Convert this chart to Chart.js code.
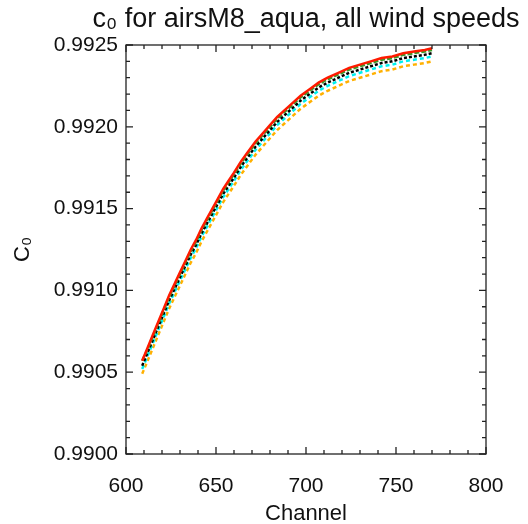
<!DOCTYPE html>
<html lang="en">
<head>
  <meta charset="UTF-8">
  <title>c0 airsM8_aqua</title>
  <script src="https://cdn.jsdelivr.net/npm/chart.js"></script>
  <style>
    * { box-sizing: border-box; }
    body { margin: 0; background: #fff; }
    #chart { display: block; }
  </style>
</head>
<body>
  <canvas id="chart" width="528" height="524"></canvas>
  <script>
    // channel numbers (x) and c0 per wind speed
    const channels = [609, 612, 615, 618, 621, 624, 627, 630, 633, 636, 639, 642, 645, 648, 651, 654, 657, 660, 664, 668,
                      672, 676, 680, 684, 688, 692, 697, 702, 707, 712, 718, 724, 730, 736, 742, 748, 754, 760, 766, 770];
    const c0Red    = [0.99057, 0.99065, 0.99073, 0.99081, 0.99089, 0.99097, 0.99104, 0.99111, 0.99118, 0.99125, 0.99131, 0.99138, 0.99144, 0.99150, 0.99156, 0.99162, 0.99167, 0.99172, 0.99179, 0.99185,
                      0.99191, 0.99196, 0.99201, 0.99206, 0.99210, 0.99214, 0.99219, 0.99223, 0.99227, 0.99230, 0.99233, 0.99236, 0.99238, 0.99240, 0.99242, 0.99243, 0.99245, 0.99246, 0.99247, 0.99248];
    const c0Green  = [0.99057, 0.99064, 0.99072, 0.99080, 0.99088, 0.99096, 0.99103, 0.99110, 0.99117, 0.99124, 0.99130, 0.99137, 0.99143, 0.99149, 0.99155, 0.99161, 0.99166, 0.99171, 0.99178, 0.99184,
                      0.99190, 0.99195, 0.99200, 0.99205, 0.99209, 0.99213, 0.99218, 0.99222, 0.99226, 0.99229, 0.99232, 0.99235, 0.99237, 0.99239, 0.99241, 0.99242, 0.99244, 0.99245, 0.99246, 0.99247];
    const c0Black  = [0.99054, 0.99062, 0.99070, 0.99078, 0.99086, 0.99094, 0.99101, 0.99108, 0.99115, 0.99122, 0.99128, 0.99135, 0.99141, 0.99147, 0.99153, 0.99159, 0.99164, 0.99169, 0.99176, 0.99182,
                      0.99188, 0.99193, 0.99198, 0.99203, 0.99207, 0.99211, 0.99216, 0.99220, 0.99224, 0.99227, 0.99230, 0.99233, 0.99235, 0.99237, 0.99239, 0.99240, 0.99242, 0.99243, 0.99244, 0.99245];
    const c0Cyan   = [0.99052, 0.99060, 0.99068, 0.99076, 0.99084, 0.99092, 0.99099, 0.99106, 0.99113, 0.99120, 0.99126, 0.99133, 0.99139, 0.99145, 0.99151, 0.99157, 0.99162, 0.99167, 0.99174, 0.99180,
                      0.99186, 0.99191, 0.99196, 0.99201, 0.99205, 0.99209, 0.99214, 0.99218, 0.99222, 0.99225, 0.99228, 0.99231, 0.99233, 0.99235, 0.99237, 0.99238, 0.99240, 0.99241, 0.99242, 0.99243];
    const c0Orange = [0.99049, 0.99057, 0.99065, 0.99073, 0.99081, 0.99089, 0.99096, 0.99103, 0.99110, 0.99117, 0.99123, 0.99130, 0.99136, 0.99142, 0.99148, 0.99154, 0.99159, 0.99164, 0.99171, 0.99177,
                      0.99183, 0.99188, 0.99193, 0.99198, 0.99202, 0.99206, 0.99211, 0.99215, 0.99219, 0.99222, 0.99225, 0.99228, 0.99230, 0.99232, 0.99234, 0.99235, 0.99237, 0.99238, 0.99239, 0.99240];

    const xTicks = [600, 650, 700, 750, 800];
    const yTicks = [0.9900, 0.9905, 0.9910, 0.9915, 0.9920, 0.9925];

    const FONT = '"Liberation Sans", Arial, sans-serif';

    function pts(vals) { return channels.map((x, i) => ({ x: x, y: vals[i] })); }
    function series(vals, color, order, dash) {
      return { data: pts(vals), borderColor: color, backgroundColor: color, showLine: true, borderWidth: 2.5,
               borderDash: dash || [], pointRadius: 0, order: order };
    }

    // IDL-style inward ticks on all four sides, plus the title centred over the plot
    const frameTicks = {
      id: 'frameTicks',
      afterDraw(chart) {
        const ctx = chart.ctx, a = chart.chartArea, xs = chart.scales.x, ys = chart.scales.y;
        ctx.save();
        ctx.strokeStyle = '#222'; ctx.lineWidth = 1.3;
        ctx.strokeRect(a.left, a.top, a.right - a.left, a.bottom - a.top);
        ctx.beginPath();
        for (let i = 0; i <= 20; i++) {
          const px = xs.getPixelForValue(600 + i * 10), len = i % 5 === 0 ? 7 : 4;
          ctx.moveTo(px, a.bottom); ctx.lineTo(px, a.bottom - len);
          ctx.moveTo(px, a.top); ctx.lineTo(px, a.top + len);
        }
        for (let i = 0; i <= 25; i++) {
          const py = ys.getPixelForValue(0.99 + i * 0.0001), len = i % 5 === 0 ? 7 : 4;
          ctx.moveTo(a.left, py); ctx.lineTo(a.left + len, py);
          ctx.moveTo(a.right, py); ctx.lineTo(a.right - len, py);
        }
        ctx.stroke();
        ctx.fillStyle = '#111'; ctx.textBaseline = 'alphabetic'; ctx.textAlign = 'center';
        ctx.font = '27px ' + FONT;
        ctx.fillText('c\u2080 for airsM8_aqua, all wind speeds', (a.left + a.right) / 2, 27);
        ctx.restore();
      }
    };

    new Chart(document.getElementById('chart'), {
      type: 'scatter',
      data: {
        datasets: [
          series(c0Red, '#ff1a00', 0),
          series(c0Green, '#3a9a2a', 1, [5, 2]),
          series(c0Black, '#000000', 2, [3, 2]),
          series(c0Cyan, '#00f0f0', 3, [4, 3]),
          series(c0Orange, '#ffb000', 4, [4, 3])
        ]
      },
      options: {
        responsive: false,
        animation: false,
        devicePixelRatio: 1,
        layout: { padding: { top: 45, right: 42, left: 0, bottom: 0 } },
        plugins: { legend: { display: false }, tooltip: { enabled: false } },
        scales: {
          x: {
            type: 'linear', min: 600, max: 800,
            afterBuildTicks: s => { s.ticks = xTicks.map(v => ({ value: v })); },
            afterFit: s => { s.height = 70; },
            grid: { display: false, drawTicks: false },
            border: { display: false },
            ticks: { color: '#111', font: { family: FONT, size: 21 }, padding: 20, maxRotation: 0 },
            title: { display: true, text: 'Channel', color: '#111', font: { family: FONT, size: 22 }, padding: { top: 0, bottom: -3 } }
          },
          y: {
            type: 'linear', min: 0.99, max: 0.9925,
            afterBuildTicks: s => { s.ticks = yTicks.map(v => ({ value: v })); },
            afterFit: s => { s.width = 126; },
            grid: { display: false, drawTicks: false },
            border: { display: false },
            ticks: { color: '#111', font: { family: FONT, size: 21 }, padding: 8, callback: v => v.toFixed(4) },
            title: { display: true, text: 'C\u2080', color: '#111', font: { family: FONT, size: 22 }, padding: { top: 10, bottom: 0 } }
          }
        }
      },
      plugins: [frameTicks]
    });
  </script>
</body>
</html>
